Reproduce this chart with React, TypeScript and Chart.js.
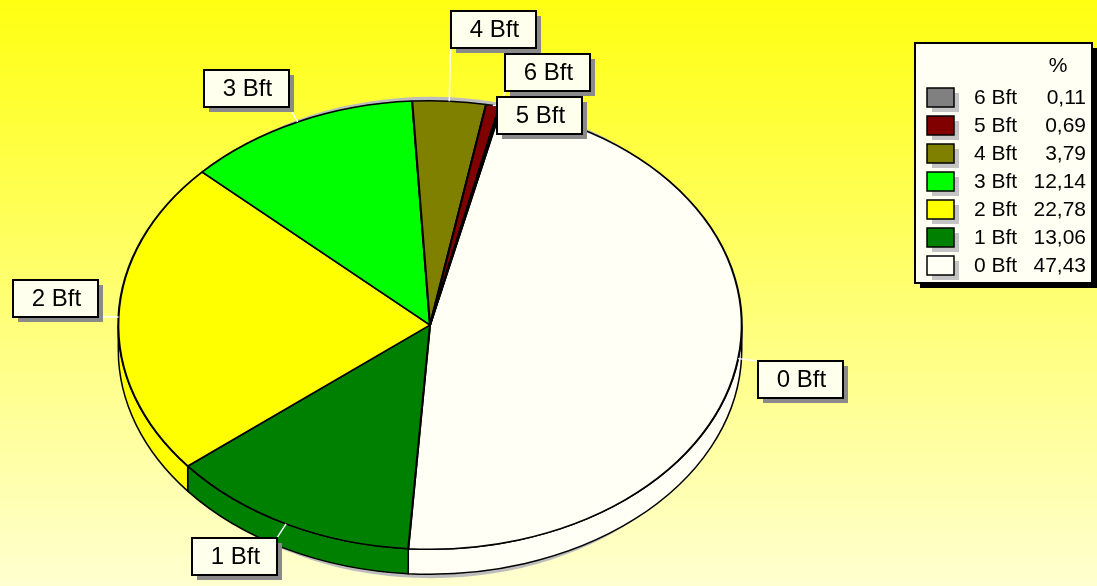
import { useEffect, useRef } from 'react';
import { Chart, registerables } from 'chart.js';

Chart.register(...registerables);

// ---- data ----
const categories = ['0 Bft', '1 Bft', '2 Bft', '3 Bft', '4 Bft', '5 Bft', '6 Bft'];
const percentages = [47.43, 13.06, 22.78, 12.14, 3.79, 0.69, 0.11];
const sliceColors = ['#FFFFF5', '#008000', '#FFFF00', '#00FF00', '#808000', '#800000', '#808080'];
const legendHeader = '%';

// ---- layout / style constants ----
const W = 1097;
const H = 586;
const ELLIPSE_X = 1.39; // horizontal stretch of the pie
const DEPTH = 25; // 3D thickness
const LABEL_GAP_X = 20;
const LABEL_GAP_Y = 16;
const LABEL_H = 37;
const LABEL_PAD = 18;
const LABEL_FONT = '24px "Liberation Sans", Arial, sans-serif';
const LEGEND_FONT = '21px "Liberation Sans", Arial, sans-serif';

const fmt = (v: number) => v.toFixed(2).replace('.', ',');

type Box = { l: number; t: number; r: number; b: number };
const overlaps = (a: Box, b: Box) => a.l < b.r && a.r > b.l && a.t < b.b && a.b > b.t;

const backgroundPlugin = {
  id: 'bgGradient',
  beforeDraw(chart: any) {
    const { ctx, width, height } = chart;
    const g = ctx.createLinearGradient(0, 0, 0, height);
    g.addColorStop(0, '#FFFF12');
    g.addColorStop(1, '#FFFFD0');
    ctx.save();
    ctx.fillStyle = g;
    ctx.fillRect(0, 0, width, height);
    ctx.restore();
  },
};

function pieGeom(chart: any) {
  const meta = chart.getDatasetMeta(0);
  const arcs = meta.data;
  const p = arcs[0].getProps(['x', 'y', 'outerRadius'], true);
  return { arcs, cx: p.x, cy: p.y, rx: p.outerRadius * ELLIPSE_X, ry: p.outerRadius };
}

const pie3dPlugin = {
  id: 'pie3d',
  beforeDatasetsDraw(chart: any) {
    const { ctx } = chart;
    const { arcs, cx, cy, rx, ry } = pieGeom(chart);
    ctx.save();
    // soft shadow behind the pie
    ctx.fillStyle = '#BDBDBD';
    ctx.beginPath();
    ctx.ellipse(cx + 1, cy + DEPTH / 2, rx, ry + DEPTH / 2 + 4, 0, 0, Math.PI * 2);
    ctx.fill();
    // sides
    arcs.forEach((arc: any, i: number) => {
      const { startAngle, endAngle } = arc.getProps(['startAngle', 'endAngle'], true);
      for (const k of [-2, -1, 0, 1]) {
        const lo = Math.max(startAngle, k * 2 * Math.PI);
        const hi = Math.min(endAngle, k * 2 * Math.PI + Math.PI);
        if (hi <= lo) continue;
        ctx.beginPath();
        ctx.ellipse(cx, cy, rx, ry, 0, lo, hi, false);
        ctx.lineTo(cx + rx * Math.cos(hi), cy + DEPTH + ry * Math.sin(hi));
        ctx.ellipse(cx, cy + DEPTH, rx, ry, 0, hi, lo, true);
        ctx.closePath();
        ctx.fillStyle = sliceColors[i];
        ctx.fill();
        ctx.strokeStyle = '#000';
        ctx.lineWidth = 1.5;
        ctx.stroke();
      }
    });
    ctx.restore();
    // stretch the top face into an ellipse
    ctx.save();
    ctx.translate(cx, cy);
    ctx.scale(ELLIPSE_X, 1);
    ctx.translate(-cx, -cy);
  },
  afterDatasetsDraw(chart: any) {
    const { ctx } = chart;
    ctx.restore();
    const { arcs, cx, cy, rx, ry } = pieGeom(chart);

    // ---- slice labels ----
    ctx.save();
    ctx.font = LABEL_FONT;
    const placed: Box[] = [];
    const items: { i: number; box: Box; ax: number; ay: number }[] = [];
    for (let i = arcs.length - 1; i >= 0; i--) {
      const { startAngle, endAngle } = arcs[i].getProps(['startAngle', 'endAngle'], true);
      const m = (startAngle + endAngle) / 2;
      const c = Math.cos(m);
      const s = Math.sin(m);
      const ax = cx + rx * c;
      const ay = cy + ry * s;
      const px = cx + (rx + LABEL_GAP_X) * c;
      const py = cy + (ry + LABEL_GAP_Y) * s;
      const w = Math.round(ctx.measureText(categories[i]).width + LABEL_PAD * 2);
      const l = c >= 0 ? px : px - w;
      const t0 = s >= 0 ? py : py - LABEL_H;
      const cands: { t: number; cost: number }[] = [{ t: t0, cost: 0 }];
      placed.forEach((p) => {
        const down = p.b + 6;
        const up = p.t - 6 - LABEL_H;
        cands.push({ t: down, cost: Math.abs(down - t0) - 5 });
        cands.push({ t: up, cost: Math.abs(up - t0) });
      });
      cands.sort((a, b) => a.cost - b.cost);
      let box: Box = { l, t: t0, r: l + w, b: t0 + LABEL_H };
      for (const cd of cands) {
        const bx = { l, t: cd.t, r: l + w, b: cd.t + LABEL_H };
        if (!placed.some((p) => overlaps(p, bx))) {
          box = bx;
          break;
        }
      }
      placed.push(box);
      items.push({ i, box, ax, ay });
    }
    // leader lines
    ctx.strokeStyle = '#FFFFFF';
    ctx.lineWidth = 1.5;
    items.forEach(({ box, ax, ay }) => {
      const tx = Math.min(Math.max(ax, box.l), box.r);
      const ty = Math.min(Math.max(ay, box.t), box.b);
      ctx.beginPath();
      ctx.moveTo(ax, ay);
      ctx.lineTo(tx, ty);
      ctx.stroke();
    });
    // boxes
    items.forEach(({ i, box }) => {
      const l = Math.round(box.l);
      const t = Math.round(box.t);
      const w = Math.round(box.r - box.l);
      ctx.fillStyle = '#8A8A8A';
      ctx.fillRect(l + 5, t + 5, w, LABEL_H);
      ctx.fillStyle = '#FFFFEE';
      ctx.fillRect(l, t, w, LABEL_H);
      ctx.strokeStyle = '#000';
      ctx.lineWidth = 2;
      ctx.strokeRect(l, t, w, LABEL_H);
      ctx.fillStyle = '#000';
      ctx.textAlign = 'center';
      ctx.textBaseline = 'middle';
      ctx.fillText(categories[i], l + w / 2 + 1, t + LABEL_H / 2 + 1);
    });
    ctx.restore();

    // ---- legend ----
    ctx.save();
    const lx = 915, ly = 43, lw = 177, lh = 240;
    ctx.fillStyle = '#000';
    ctx.fillRect(lx + 5, ly + 5, lw, lh);
    ctx.fillStyle = '#FFFFF4';
    ctx.fillRect(lx, ly, lw, lh);
    ctx.strokeStyle = '#000';
    ctx.lineWidth = 2;
    ctx.strokeRect(lx, ly, lw, lh);
    ctx.font = LEGEND_FONT;
    ctx.fillStyle = '#000';
    ctx.textBaseline = 'middle';
    ctx.textAlign = 'center';
    ctx.fillText(legendHeader, 1058, 66);
    const n = categories.length;
    for (let j = 0; j < n; j++) {
      const idx = n - 1 - j;
      const y = 97 + j * 28.1;
      const sy = Math.round(y - 9.5);
      ctx.fillStyle = '#C4C4C4';
      ctx.fillRect(932, sy + 5, 27, 19);
      ctx.fillStyle = sliceColors[idx];
      ctx.fillRect(927, sy, 27, 19);
      ctx.strokeStyle = '#000';
      ctx.lineWidth = 1.5;
      ctx.strokeRect(927, sy, 27, 19);
      ctx.fillStyle = '#000';
      ctx.textAlign = 'left';
      ctx.fillText(categories[idx], 974, y + 1);
      ctx.textAlign = 'right';
      ctx.fillText(fmt(percentages[idx]), 1086, y + 1);
    }
    ctx.restore();
  },
};

export default function App() {
  const ref = useRef<HTMLCanvasElement | null>(null);
  useEffect(() => {
    if (!ref.current) return;
    const chart = new Chart(ref.current, {
      type: 'pie',
      data: {
        labels: categories,
        datasets: [
          {
            data: percentages,
            backgroundColor: sliceColors,
            borderColor: '#000000',
            borderWidth: 1.5,
            clip: false,
          } as any,
        ],
      },
      options: {
        responsive: false,
        maintainAspectRatio: false,
        animation: false,
        devicePixelRatio: 1,
        rotation: 13.25,
        layout: { padding: { left: 205, right: 442, top: 100, bottom: 36 } },
        plugins: {
          legend: { display: false },
          tooltip: { enabled: false },
          title: { display: false },
        },
        events: [],
      },
      plugins: [backgroundPlugin, pie3dPlugin],
    });
    return () => chart.destroy();
  }, []);
  return (
    <>
      <style>{'body{margin:0}'}</style>
      <canvas ref={ref} width={W} height={H} style={{ display: 'block' }} />
    </>
  );
}
